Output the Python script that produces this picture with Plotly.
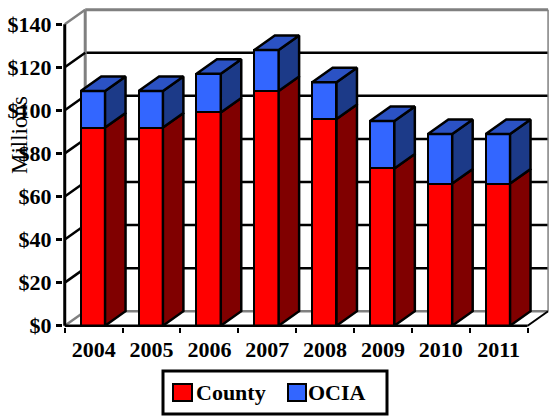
import plotly.graph_objects as go

# Funding by source, in millions of dollars
years = ["2004", "2005", "2006", "2007", "2008", "2009", "2010", "2011"]
county = [92, 92, 99, 109, 96, 73, 66, 66]
ocia = [17, 17, 18, 19, 17, 22, 23, 23]
y_ticks = [0, 20, 40, 60, 80, 100, 120, 140]
y_tick_text = ["$0", "$20", "$40", "$60", "$80", "$100", "$120", "$140"]

# Pseudo-3D geometry (x in category units, y in value units)
DX = 0.354          # depth offset along x
DY = 6.73           # depth offset along y
BAR_W = 0.42        # width of a bar's front face
BAR_OFF = -0.013    # front face centre relative to category centre
X0, X1 = -0.5, len(years) - 0.5
YMAX = 140

RED, RED_SIDE = "#FF0000", "#800000"
BLUE, BLUE_TOP, BLUE_SIDE = "#3366FF", "#2B52C4", "#1C3A88"
GRAY = "#808080"
SERIF = "Liberation Serif, Times New Roman, serif"

# Layout in pixels
W, H = 549, 417
ML, MR, MT, MB = 63, 0, 8, 90
PW, PH = W - ML - MR, H - MT - MB
XR = [-0.53, 7.87]
YR = [-0.6, 147.5]


def px_x(px):
    return (px - ML) / PW


def px_y(py):
    return (H - MB - py) / PH


fig = go.Figure()

xpos = [i + BAR_OFF for i in range(len(years))]

# Front faces of the stacked columns
fig.add_trace(go.Bar(x=xpos, y=county, width=BAR_W, name="County",
                     marker=dict(color=RED, line=dict(color="black", width=2.5)),
                     showlegend=False, hoverinfo="skip"))
fig.add_trace(go.Bar(x=xpos, y=ocia, width=BAR_W, name="OCIA",
                     marker=dict(color=BLUE, line=dict(color="black", width=2.5)),
                     showlegend=False, hoverinfo="skip"))

# Side and top faces, derived from the same values
red_x, red_y, blue_x, blue_y, top_x, top_y = [], [], [], [], [], []
for xc, c, o in zip(xpos, county, ocia):
    xl, xr = xc - BAR_W / 2, xc + BAR_W / 2
    t = c + o
    red_x += [xr, xr + DX, xr + DX, xr, xr, None]
    red_y += [0, DY, c + DY, c, 0, None]
    blue_x += [xr, xr + DX, xr + DX, xr, xr, None]
    blue_y += [c, c + DY, t + DY, t, c, None]
    top_x += [xl, xr, xr + DX, xl + DX, xl, None]
    top_y += [t, t, t + DY, t + DY, t, None]

for fx, fy, col in [(red_x, red_y, RED_SIDE), (blue_x, blue_y, BLUE_SIDE),
                    (top_x, top_y, BLUE_TOP)]:
    fig.add_trace(go.Scatter(x=fx, y=fy, mode="lines", fill="toself",
                             fillcolor=col, line=dict(color="black", width=2.5),
                             showlegend=False, hoverinfo="skip"))

# Invisible trace on the secondary x axis so its boundary ticks render
fig.add_trace(go.Scatter(x=[X0], y=[0], xaxis="x2", mode="markers",
                         marker=dict(opacity=0), showlegend=False, hoverinfo="skip"))

shapes = []


def seg(x0, y0, x1, y1, color, width, layer="below"):
    shapes.append(dict(type="line", xref="x", yref="y", x0=x0, y0=y0, x1=x1, y1=y1,
                       line=dict(color=color, width=width), layer=layer))


# Back wall gridlines and frame
for v in y_ticks[1:-1]:
    seg(X0 + DX, v + DY, X1 + DX, v + DY, "black", 2.5)
seg(X0 + DX, YMAX + DY, X1 + DX, YMAX + DY, GRAY, 3)
seg(X0 + DX, DY, X0 + DX, YMAX + DY, GRAY, 3)
seg(X1 + DX, DY, X1 + DX, YMAX + DY, GRAY, 1.5)
seg(X0 + DX, DY, X1 + DX, DY, GRAY, 2.5)
# Side wall gridlines
for v in y_ticks:
    col = GRAY if v in (0, YMAX) else "black"
    seg(X0, v, X0 + DX, v + DY, col, 2.5)
# Floor edges and front value axis
seg(X1, 0, X1 + DX, DY, "black", 2)
seg(X0, 0, X1, 0, "black", 2.5, layer="above")
seg(X0, 0, X0, YMAX, "black", 3, layer="above")

# Legend drawn by hand
shapes.append(dict(type="rect", xref="paper", yref="paper",
                   x0=px_x(163), x1=px_x(387), y0=px_y(414), y1=px_y(371),
                   line=dict(color="black", width=3), fillcolor="white"))
shapes.append(dict(type="rect", xref="paper", yref="paper",
                   x0=px_x(173), x1=px_x(192), y0=px_y(401), y1=px_y(384),
                   line=dict(color="black", width=2), fillcolor=RED))
shapes.append(dict(type="rect", xref="paper", yref="paper",
                   x0=px_x(288), x1=px_x(306), y0=px_y(401), y1=px_y(384),
                   line=dict(color="black", width=2), fillcolor=BLUE))

annotations = [
    dict(text="<b>County</b>", xref="paper", yref="paper", x=px_x(194), y=px_y(392),
         xanchor="left", yanchor="middle", showarrow=False,
         font=dict(family=SERIF, size=22, color="black")),
    dict(text="<b>OCIA</b>", xref="paper", yref="paper", x=px_x(306), y=px_y(392),
         xanchor="left", yanchor="middle", showarrow=False,
         font=dict(family=SERIF, size=22, color="black")),
    dict(text="Millions", xref="paper", yref="paper", x=px_x(19), y=px_y(135),
         xanchor="center", yanchor="middle", textangle=-90, showarrow=False,
         font=dict(family=SERIF, size=23, color="black")),
]

fig.update_layout(
    width=W, height=H,
    margin=dict(l=ML, r=MR, t=MT, b=MB),
    paper_bgcolor="white", plot_bgcolor="white",
    barmode="stack", bargap=0,
    shapes=shapes, annotations=annotations,
    showlegend=False,
    xaxis=dict(range=XR, tickvals=list(range(len(years))),
               ticktext=[f"<b>{y}</b>" for y in years],
               ticks="outside", ticklen=3, tickcolor="rgba(0,0,0,0)",
               showgrid=False, zeroline=False, showline=False,
               tickfont=dict(family=SERIF, size=22, color="black")),
    xaxis2=dict(range=XR, overlaying="x", anchor="y", side="bottom",
                tickvals=[i - 0.5 for i in range(len(years) + 1)],
                ticks="outside", ticklen=5, tickwidth=2, tickcolor="black",
                showticklabels=False, showgrid=False, zeroline=False, showline=False),
    yaxis=dict(range=YR, tickvals=y_ticks, ticktext=[f"<b>{t}</b>" for t in y_tick_text],
               ticks="outside", ticklen=6, tickwidth=2.5, tickcolor="black",
               showgrid=False, zeroline=False, showline=False,
               tickfont=dict(family=SERIF, size=22, color="black")),
)

fig.write_html("out.html")
